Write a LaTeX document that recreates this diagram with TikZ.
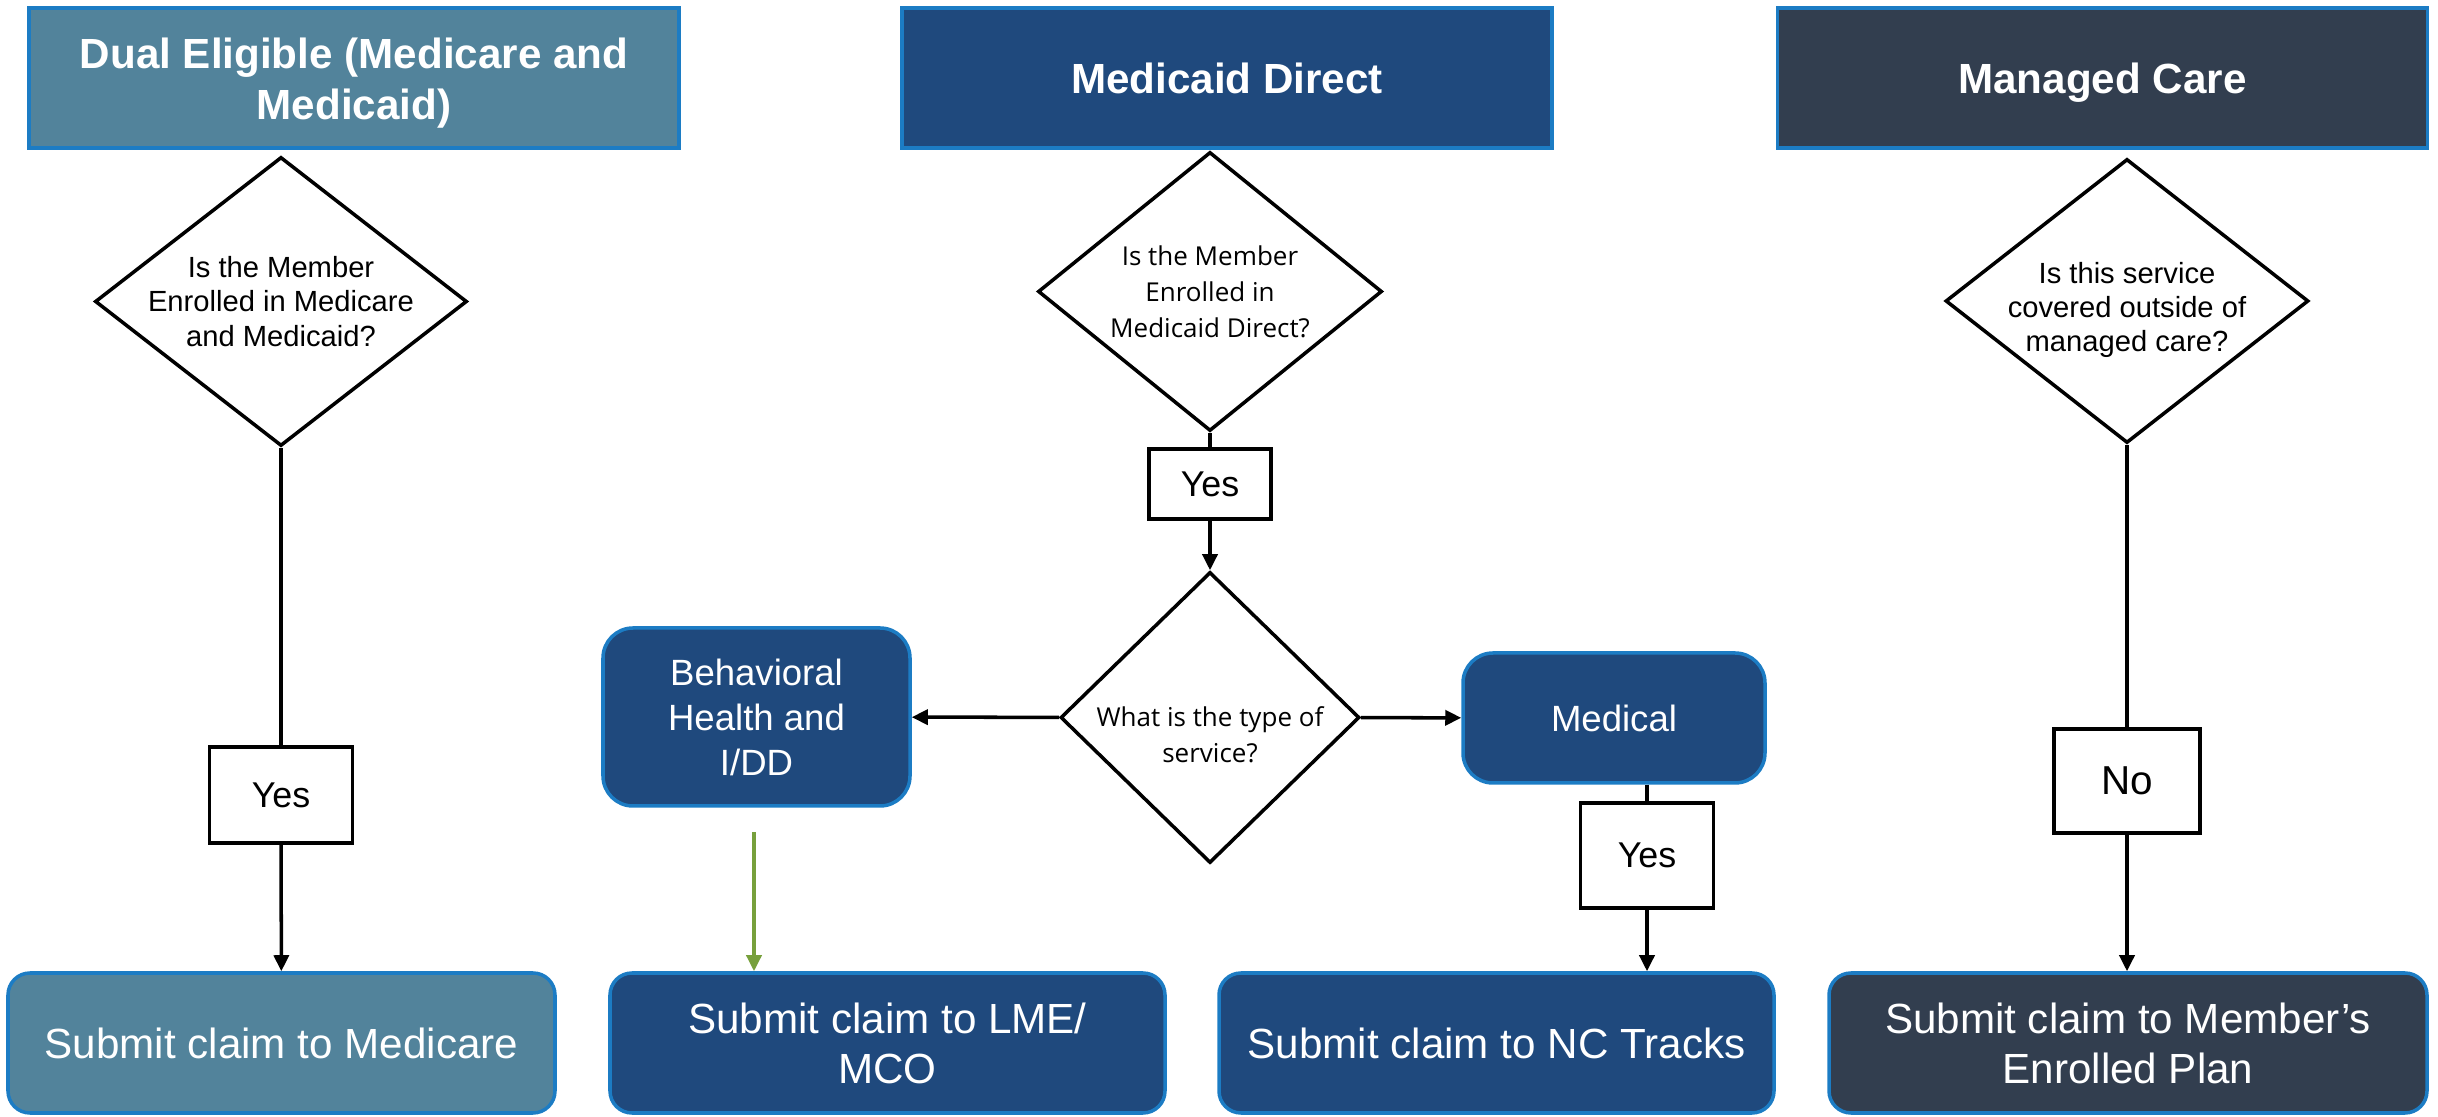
\documentclass[tikz,border=0pt]{standalone}
\usepackage{fontspec}
\setmainfont{Liberation Sans}
\newfontfamily\segoe{Open Sans}
\usetikzlibrary{arrows.meta, positioning, shapes.geometric}

\definecolor{dualblue}{HTML}{52839B}
\definecolor{directblue}{HTML}{1F497D}
\definecolor{managedgray}{HTML}{323E4F}
\definecolor{edgeblue}{HTML}{1C7CC4}
\definecolor{leafgreen}{HTML}{77A03C}

\begin{document}
\begin{tikzpicture}[>={Triangle[length=1.6mm,width=1.5mm]}, line width=1pt,
  every node/.style={align=center},
  header/.style={rectangle, draw=edgeblue, line width=1pt, text=white, minimum width=6.5cm, minimum height=1.4cm, font=\bfseries\fontsize{12}{14.5}\selectfont},
  decision/.style={diamond, draw, line width=1pt, inner sep=-0.7cm, font=\fontsize{8.3}{9.8}\selectfont},
  segoetext/.style={font=\segoe\fontsize{7.4}{10.2}\selectfont},
  answer/.style={rectangle, draw, line width=1.1pt, font=\fontsize{10.2}{12}\selectfont},
  choice/.style={rectangle, rounded corners=0.3cm, draw=edgeblue, line width=1pt, fill=directblue, text=white, font=\fontsize{10.4}{12.8}\selectfont},
  action/.style={rectangle, rounded corners=0.22cm, draw=edgeblue, line width=1pt, text=white, minimum height=1.4cm, font=\fontsize{12}{14.2}\selectfont}]

\useasboundingbox (0,0) rectangle (24.38,11.17);

% Column headers
\node[header, fill=dualblue, label={[text=white, font=\bfseries\fontsize{12}{14.5}\selectfont, yshift=-0.05cm]center:{Dual Eligible (Medicare and\\Medicaid)}}] (dual) at (3.54,10.39) {};
\node[header, fill=directblue] (direct) at (12.27,10.39) {Medicaid Direct};
\node[header, fill=managedgray] (managed) at (21.025,10.39) {\raisebox{0pt}[\height][0pt]{Managed Care}};

% Questions
\node[decision, minimum width=3.72cm, minimum height=2.89cm] (q1) at (2.81,8.155) {Is the Member\\Enrolled in Medicare\\and Medicaid?};
\node[decision, segoetext, minimum width=3.44cm, minimum height=2.79cm] (q2) at (12.10,8.255) {Is the Member\\Enrolled in\\Medicaid Direct?};
\node[decision, minimum width=3.63cm, minimum height=2.84cm,
  label={[font=\fontsize{8.3}{9.8}\selectfont, yshift=-0.09cm]center:{Is this service\\covered outside of\\managed care?}}] (q3) at (21.27,8.16) {};
\node[decision, minimum width=2.99cm, minimum height=2.91cm,
  label={[segoetext, yshift=-0.17cm]center:{What is the type of\\service?}}] (q4) at (12.10,3.995) {};

% Answers
\node[answer, minimum width=1.43cm, minimum height=0.96cm] (yes1) at (2.81,3.22) {Yes};
\node[answer, minimum width=1.22cm, minimum height=0.70cm] (yes2) at (12.10,6.33) {Yes};
\node[answer, minimum width=1.33cm, minimum height=1.05cm] (yes3) at (16.47,2.615) {Yes};
\node[answer, font=\fontsize{11.5}{13}\selectfont, minimum width=1.46cm, minimum height=1.04cm] (no) at (21.27,3.36) {No};

% Type of service
\node[choice, minimum width=3.07cm, minimum height=1.78cm] (behav) at (7.565,4.00) {Behavioral\\Health and\\I/DD};
\node[choice, minimum width=3.02cm, minimum height=1.30cm] (medical) at (16.14,3.99) {Medical};

% Where to submit
\node[action, fill=dualblue, minimum width=5.47cm] (claim1) at (2.815,0.74) {Submit claim to Medicare};
\node[action, fill=directblue, minimum width=5.55cm] (claim2) at (8.875,0.74) {Submit claim to LME/\\MCO};
\node[action, fill=directblue, minimum width=5.55cm] (claim3) at (14.965,0.74) {Submit claim to NC Tracks};
\node[action, fill=managedgray, minimum width=5.98cm] (claim4) at (21.28,0.74) {Submit claim to Member’s\\Enrolled Plan};

% Connections
\draw (q1) -- (yes1);
\draw[->] (yes1) -- (claim1);

\draw (q2) -- (yes2);
\draw[->] (yes2) -- (q4);
\draw[->] (q4) -- (behav);
\draw[->] (q4) -- (medical);
\draw (medical.south -| yes3) -- (yes3);
\draw[->] (yes3) -- (claim3.north -| yes3);

\coordinate (gstart) at (7.54,2.85);
\draw[->, leafgreen] (gstart) -- (gstart |- claim2.north);

\draw (q3) -- (no);
\draw[->] (no) -- (no |- claim4.north);

\end{tikzpicture}
\end{document}
